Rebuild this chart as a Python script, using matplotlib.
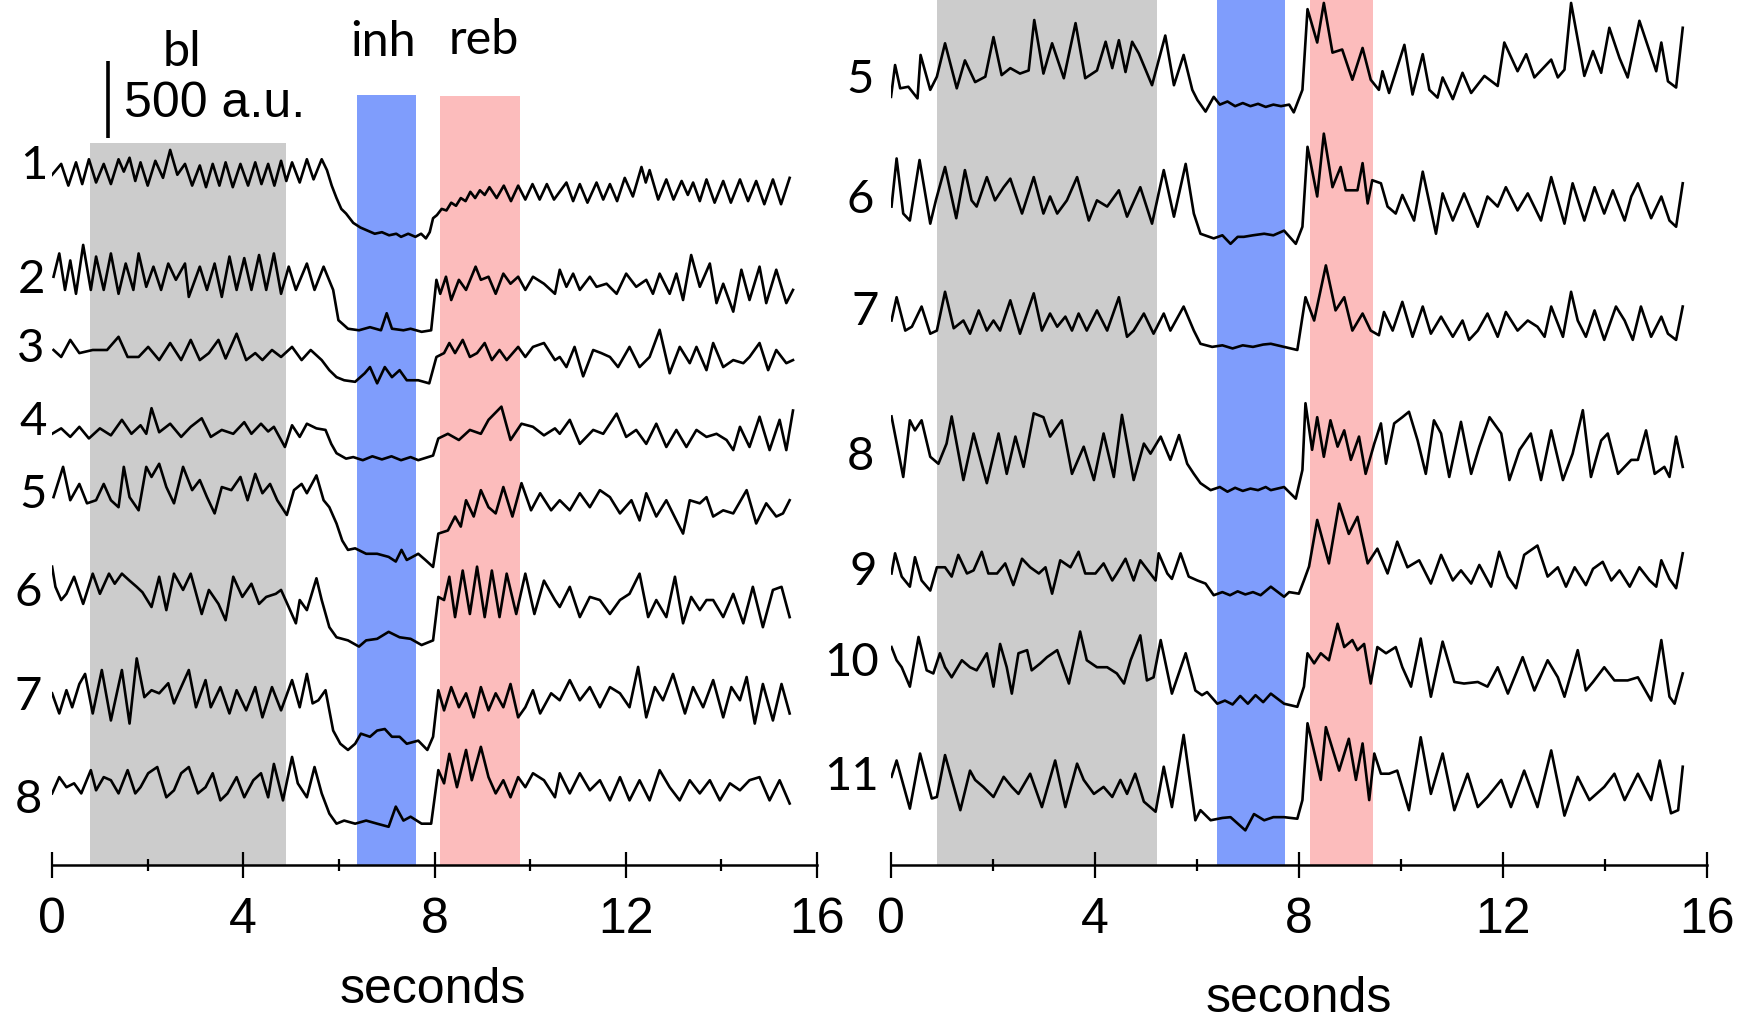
import matplotlib.pyplot as plt
import numpy as np

# traces: (seconds, a.u. above the inhibited level)
left_1 = [(0.0, 400), (0.19, 470), (0.34, 330), (0.5, 480), (0.63, 340), (0.77, 500), (0.92, 350), (1.08, 470),
          (1.23, 340), (1.39, 500), (1.5, 420), (1.62, 510), (1.74, 360), (1.85, 480), (2.0, 330), (2.16, 490),
          (2.32, 380), (2.47, 560), (2.62, 400), (2.78, 470), (2.93, 330), (3.09, 460), (3.22, 320), (3.36, 470),
          (3.5, 330), (3.63, 480), (3.78, 320), (3.94, 470), (4.1, 330), (4.25, 480), (4.38, 340), (4.52, 470),
          (4.65, 330), (4.79, 490), (4.9, 360), (5.02, 480), (5.18, 350), (5.33, 500), (5.47, 370), (5.64, 500),
          (5.75, 430), (5.85, 330), (5.95, 250), (6.05, 180), (6.15, 150), (6.3, 90), (6.45, 60), (6.6, 40),
          (6.75, 20), (6.9, 30), (7.05, 10), (7.2, 20), (7.3, 0), (7.45, 20), (7.6, 0), (7.72, 20), (7.82, -10),
          (7.9, 30), (7.97, 120), (8.05, 140), (8.15, 180), (8.25, 170), (8.35, 220), (8.45, 200), (8.55, 250),
          (8.65, 230), (8.75, 290), (8.85, 250), (8.95, 300), (9.05, 270), (9.15, 320), (9.3, 250), (9.45, 330),
          (9.6, 230), (9.75, 330), (9.9, 240), (10.05, 340), (10.2, 240), (10.35, 340), (10.5, 240), (10.76, 350),
          (10.9, 230), (11.04, 340), (11.2, 220), (11.39, 350), (11.53, 240), (11.67, 340), (11.82, 230),
          (11.98, 380), (12.15, 260), (12.33, 450), (12.42, 350), (12.5, 430), (12.68, 240), (12.85, 370),
          (13.0, 240), (13.17, 360), (13.3, 270), (13.41, 350), (13.55, 230), (13.69, 370), (13.86, 220),
          (14.04, 360), (14.2, 220), (14.39, 370), (14.56, 230), (14.73, 360), (14.9, 210), (15.08, 370),
          (15.25, 210), (15.43, 380)]
left_2 = [(0.03, 355), (0.15, 505), (0.27, 270), (0.38, 460), (0.5, 245), (0.65, 560), (0.81, 270), (0.92, 485),
          (1.08, 270), (1.23, 505), (1.39, 245), (1.54, 440), (1.7, 270), (1.81, 505), (1.97, 290), (2.12, 420),
          (2.28, 270), (2.43, 440), (2.59, 335), (2.78, 440), (2.86, 225), (3.09, 420), (3.24, 270), (3.4, 440),
          (3.55, 225), (3.71, 485), (3.86, 270), (4.02, 475), (4.17, 270), (4.33, 495), (4.48, 270), (4.64, 505),
          (4.79, 245), (4.95, 420), (5.1, 270), (5.33, 440), (5.49, 270), (5.68, 420), (5.88, 270), (5.99, 75),
          (6.19, 20), (6.42, 10), (6.65, 30), (6.88, 10), (7.0, 120), (7.11, 20), (7.35, 10), (7.5, 20), (7.73, 0),
          (7.93, 10), (8.04, 335), (8.12, 245), (8.24, 355), (8.35, 205), (8.51, 335), (8.66, 270), (8.86, 420),
          (8.97, 335), (9.13, 355), (9.28, 245), (9.44, 375), (9.59, 310), (9.75, 355), (9.9, 270), (10.06, 355),
          (10.29, 310), (10.52, 245), (10.62, 400), (10.76, 290), (10.9, 375), (11.04, 270), (11.25, 355),
          (11.39, 290), (11.6, 310), (11.81, 245), (12.01, 375), (12.22, 290), (12.43, 335), (12.57, 245),
          (12.71, 375), (12.92, 245), (13.06, 375), (13.2, 205), (13.37, 495), (13.55, 290), (13.76, 440),
          (13.9, 185), (14.04, 310), (14.25, 130), (14.42, 400), (14.59, 205), (14.8, 420), (14.94, 185),
          (15.15, 400), (15.36, 185), (15.5, 270)]
left_3 = [(0.03, 215), (0.19, 170), (0.38, 280), (0.57, 195), (0.85, 215), (1.15, 215), (1.39, 300), (1.58, 170),
          (1.81, 170), (2.01, 235), (2.24, 150), (2.47, 260), (2.7, 150), (2.9, 280), (3.09, 150), (3.28, 195),
          (3.48, 280), (3.63, 160), (3.86, 320), (4.06, 150), (4.25, 195), (4.4, 150), (4.6, 215), (4.79, 170),
          (5.02, 235), (5.22, 150), (5.41, 215), (5.64, 150), (5.8, 85), (5.95, 40), (6.11, 20), (6.34, 10),
          (6.54, 65), (6.65, 105), (6.8, 0), (6.96, 105), (7.11, 40), (7.27, 85), (7.42, 20), (7.66, 20),
          (7.89, 0), (8.04, 170), (8.2, 195), (8.31, 260), (8.43, 195), (8.59, 280), (8.74, 170), (8.89, 195),
          (9.05, 260), (9.2, 150), (9.36, 215), (9.51, 150), (9.75, 235), (9.9, 170), (10.06, 235), (10.29, 260),
          (10.52, 150), (10.62, 170), (10.76, 105), (10.93, 235), (11.11, 45), (11.32, 215), (11.49, 195),
          (11.67, 170), (11.84, 105), (12.08, 235), (12.29, 105), (12.5, 170), (12.71, 345), (12.92, 65),
          (13.13, 235), (13.34, 130), (13.48, 235), (13.69, 85), (13.83, 260), (14.04, 105), (14.25, 150),
          (14.46, 130), (14.59, 170), (14.8, 260), (14.98, 85), (15.15, 215), (15.36, 130), (15.5, 150)]
left_4 = [(0.0, 170), (0.19, 205), (0.38, 150), (0.57, 215), (0.77, 140), (1.0, 205), (1.23, 160), (1.46, 260),
          (1.66, 170), (1.85, 225), (1.97, 170), (2.08, 335), (2.24, 180), (2.47, 235), (2.7, 150), (2.9, 215),
          (3.13, 270), (3.32, 150), (3.55, 195), (3.79, 170), (4.02, 245), (4.17, 170), (4.37, 235), (4.52, 185),
          (4.64, 215), (4.87, 85), (5.02, 225), (5.18, 150), (5.33, 235), (5.53, 205), (5.72, 195), (5.84, 105),
          (5.95, 45), (6.15, 10), (6.3, 20), (6.5, 0), (6.7, 25), (6.9, 5), (7.1, 25), (7.3, 0), (7.5, 20),
          (7.66, 0), (7.97, 30), (8.08, 140), (8.28, 170), (8.51, 130), (8.74, 195), (8.97, 170), (9.13, 260),
          (9.4, 345), (9.59, 130), (9.82, 235), (10.06, 215), (10.29, 160), (10.52, 205), (10.62, 170),
          (10.83, 260), (11.04, 105), (11.32, 195), (11.53, 170), (11.81, 300), (12.01, 150), (12.22, 195),
          (12.43, 105), (12.64, 235), (12.85, 85), (13.06, 195), (13.27, 85), (13.48, 195), (13.69, 150),
          (13.9, 170), (14.11, 130), (14.25, 65), (14.39, 215), (14.59, 85), (14.8, 280), (15.01, 65),
          (15.22, 260), (15.36, 65), (15.5, 320)]
left_5 = [(0.03, 385), (0.23, 580), (0.38, 365), (0.57, 470), (0.73, 345), (0.92, 365), (1.08, 470), (1.23, 365),
          (1.39, 320), (1.5, 580), (1.62, 385), (1.81, 300), (1.97, 580), (2.08, 515), (2.24, 600), (2.39, 450),
          (2.55, 345), (2.74, 580), (2.93, 430), (3.09, 495), (3.24, 385), (3.4, 280), (3.55, 450), (3.75, 430),
          (3.94, 515), (4.09, 365), (4.25, 535), (4.4, 410), (4.56, 470), (4.71, 365), (4.91, 270), (5.06, 430),
          (5.22, 470), (5.33, 410), (5.53, 525), (5.68, 365), (5.8, 320), (5.95, 215), (6.07, 105), (6.19, 45),
          (6.34, 55), (6.57, 20), (6.8, 20), (7.04, 0), (7.19, -30), (7.31, 45), (7.42, -20), (7.66, 20),
          (7.81, -20), (7.97, -65), (8.08, 150), (8.28, 170), (8.43, 260), (8.55, 195), (8.66, 365), (8.82, 260),
          (8.97, 430), (9.13, 320), (9.28, 280), (9.44, 450), (9.63, 260), (9.82, 475), (10.02, 300), (10.21, 410),
          (10.44, 300), (10.62, 365), (10.83, 300), (11.04, 410), (11.25, 320), (11.46, 430), (11.67, 385),
          (11.88, 280), (12.12, 365), (12.29, 235), (12.43, 410), (12.64, 260), (12.85, 365), (13.06, 235),
          (13.2, 150), (13.34, 365), (13.55, 345), (13.69, 385), (13.83, 260), (14.04, 300), (14.25, 280),
          (14.53, 430), (14.73, 215), (14.94, 345), (15.15, 260), (15.29, 280), (15.43, 365)]
left_6 = [(0.0, 485), (0.07, 355), (0.19, 270), (0.3, 310), (0.46, 420), (0.65, 245), (0.85, 440), (1.0, 310),
          (1.19, 440), (1.31, 375), (1.46, 440), (1.62, 395), (1.77, 355), (1.89, 320), (2.08, 225), (2.24, 420),
          (2.39, 205), (2.55, 440), (2.74, 335), (2.9, 440), (3.13, 180), (3.28, 335), (3.48, 245), (3.63, 140),
          (3.79, 420), (3.98, 290), (4.17, 375), (4.33, 245), (4.48, 290), (4.68, 310), (4.79, 335), (4.95, 225),
          (5.1, 120), (5.18, 270), (5.33, 205), (5.53, 410), (5.64, 270), (5.8, 95), (5.95, 30), (6.19, 10),
          (6.42, -30), (6.57, 10), (6.8, 20), (7.04, 65), (7.27, 30), (7.5, 20), (7.73, -20), (7.97, 10),
          (8.08, 290), (8.2, 270), (8.31, 420), (8.43, 160), (8.59, 460), (8.74, 180), (8.89, 485), (9.05, 160),
          (9.2, 460), (9.36, 160), (9.51, 440), (9.71, 180), (9.9, 440), (10.09, 180), (10.29, 395), (10.52, 270),
          (10.62, 225), (10.83, 355), (11.04, 160), (11.25, 290), (11.46, 270), (11.67, 180), (11.88, 270),
          (12.08, 310), (12.29, 440), (12.47, 160), (12.64, 270), (12.85, 160), (13.03, 420), (13.2, 120),
          (13.37, 290), (13.55, 205), (13.69, 270), (13.83, 270), (14.04, 160), (14.25, 310), (14.46, 120),
          (14.66, 355), (14.87, 95), (15.08, 335), (15.26, 355), (15.43, 160)]
left_7 = [(0.0, 335), (0.15, 205), (0.3, 355), (0.42, 245), (0.57, 395), (0.69, 460), (0.85, 205), (1.04, 485),
          (1.23, 160), (1.46, 485), (1.62, 140), (1.77, 560), (1.93, 310), (2.08, 355), (2.24, 335), (2.43, 400),
          (2.55, 270), (2.7, 375), (2.86, 485), (3.01, 245), (3.21, 420), (3.32, 245), (3.52, 375), (3.71, 205),
          (3.86, 355), (4.06, 225), (4.25, 375), (4.4, 180), (4.6, 375), (4.79, 225), (5.02, 420), (5.18, 245),
          (5.33, 460), (5.45, 270), (5.57, 290), (5.72, 355), (5.88, 95), (6.03, 10), (6.19, -30), (6.34, 10),
          (6.46, 75), (6.65, 55), (6.8, 95), (6.96, 105), (7.11, 55), (7.27, 55), (7.42, 10), (7.66, 30),
          (7.85, -30), (7.97, 55), (8.08, 355), (8.2, 225), (8.35, 375), (8.51, 245), (8.66, 335), (8.82, 180),
          (8.97, 375), (9.13, 225), (9.28, 335), (9.44, 245), (9.59, 395), (9.75, 180), (9.9, 245), (10.06, 355),
          (10.21, 205), (10.44, 335), (10.62, 290), (10.83, 420), (11.04, 290), (11.25, 375), (11.46, 245),
          (11.67, 375), (11.88, 335), (12.08, 245), (12.26, 505), (12.43, 180), (12.61, 375), (12.78, 290),
          (12.99, 460), (13.24, 205), (13.41, 375), (13.62, 245), (13.83, 420), (14.04, 180), (14.21, 375),
          (14.39, 290), (14.53, 440), (14.7, 140), (14.87, 395), (15.08, 160), (15.26, 395), (15.43, 205)]
left_8 = [(0.0, 205), (0.15, 310), (0.3, 245), (0.46, 270), (0.61, 205), (0.81, 355), (0.92, 225), (1.08, 310),
          (1.23, 290), (1.39, 205), (1.58, 355), (1.74, 205), (1.85, 245), (2.01, 335), (2.2, 375), (2.39, 180),
          (2.55, 225), (2.7, 335), (2.86, 375), (3.05, 205), (3.21, 245), (3.36, 335), (3.52, 160), (3.67, 205),
          (3.86, 310), (4.02, 180), (4.21, 290), (4.37, 335), (4.52, 180), (4.64, 395), (4.83, 160), (5.02, 440),
          (5.14, 270), (5.33, 180), (5.49, 375), (5.64, 205), (5.8, 75), (5.95, 10), (6.11, 30), (6.34, 10),
          (6.57, 30), (6.8, 10), (7.04, -10), (7.19, 120), (7.35, 30), (7.5, 55), (7.73, 10), (7.93, 10),
          (8.08, 355), (8.2, 270), (8.31, 460), (8.47, 245), (8.66, 485), (8.78, 290), (8.97, 505), (9.13, 310),
          (9.28, 205), (9.44, 290), (9.59, 180), (9.75, 310), (9.9, 245), (10.06, 335), (10.29, 290), (10.52, 180),
          (10.62, 335), (10.83, 205), (11.04, 335), (11.25, 225), (11.46, 290), (11.67, 160), (11.88, 310),
          (12.08, 160), (12.29, 290), (12.5, 160), (12.71, 355), (12.92, 245), (13.13, 160), (13.34, 290),
          (13.55, 205), (13.76, 290), (13.97, 160), (14.18, 270), (14.39, 225), (14.59, 290), (14.8, 310),
          (15.01, 160), (15.22, 290), (15.43, 140)]

right_5 = [(0.0, 60), (0.08, 265), (0.18, 115), (0.34, 125), (0.52, 50), (0.58, 330), (0.77, 105), (0.9, 190),
           (1.06, 405), (1.29, 115), (1.45, 295), (1.65, 155), (1.85, 190), (2.01, 445), (2.17, 200), (2.34, 245),
           (2.53, 210), (2.7, 230), (2.81, 555), (2.99, 210), (3.16, 405), (3.39, 180), (3.62, 535), (3.81, 180),
           (4.04, 230), (4.21, 415), (4.34, 245), (4.47, 425), (4.6, 220), (4.73, 415), (4.86, 340), (5.12, 135),
           (5.38, 455), (5.55, 135), (5.74, 330), (5.91, 105), (6.01, 40), (6.17, -35), (6.33, 60), (6.45, 10),
           (6.6, 30), (6.75, 0), (6.9, 20), (7.05, 0), (7.2, 15), (7.35, -5), (7.5, 10), (7.65, 0), (7.81, 10),
           (7.9, -40), (8.07, 105), (8.17, 625), (8.36, 410), (8.49, 665), (8.66, 345), (8.85, 365), (9.05, 170),
           (9.25, 375), (9.41, 170), (9.57, 105), (9.64, 225), (9.77, 85), (10.07, 395), (10.23, 75), (10.43, 335),
           (10.56, 105), (10.72, 55), (10.82, 185), (11.02, 45), (11.21, 215), (11.38, 85), (11.64, 195),
           (11.9, 130), (12.03, 410), (12.29, 225), (12.46, 335), (12.62, 185), (12.95, 300), (13.08, 185),
           (13.21, 235), (13.34, 665), (13.6, 195), (13.77, 355), (13.93, 215), (14.09, 505), (14.29, 310),
           (14.45, 185), (14.68, 550), (15.01, 225), (15.11, 410), (15.24, 160), (15.4, 120), (15.53, 505)]
right_6 = [(0.01, 195), (0.11, 505), (0.24, 150), (0.37, 105), (0.56, 495), (0.77, 85), (0.88, 235), (1.06, 450),
           (1.28, 120), (1.45, 430), (1.58, 235), (1.68, 195), (1.88, 385), (2.04, 235), (2.21, 320), (2.34, 375),
           (2.57, 150), (2.8, 385), (2.99, 150), (3.12, 260), (3.26, 150), (3.45, 235), (3.65, 385), (3.88, 105),
           (4.04, 235), (4.24, 195), (4.47, 300), (4.63, 130), (4.89, 320), (5.12, 85), (5.35, 430), (5.55, 130),
           (5.78, 470), (5.94, 150), (6.07, 20), (6.33, -10), (6.5, 10), (6.66, -45), (6.8, 0), (6.92, 0),
           (7.1, 10), (7.32, 20), (7.5, 10), (7.71, 40), (7.94, -45), (8.07, 65), (8.17, 580), (8.36, 260),
           (8.49, 665), (8.66, 320), (8.82, 450), (8.92, 300), (9.15, 300), (9.25, 475), (9.35, 215), (9.44, 365),
           (9.61, 345), (9.74, 195), (9.9, 150), (10.03, 270), (10.26, 105), (10.43, 420), (10.69, 20),
           (10.82, 280), (11.02, 105), (11.24, 280), (11.51, 65), (11.7, 260), (11.9, 195), (12.06, 320),
           (12.29, 170), (12.49, 280), (12.75, 105), (12.95, 385), (13.21, 85), (13.37, 345), (13.6, 105),
           (13.8, 320), (13.99, 150), (14.16, 300), (14.39, 105), (14.52, 260), (14.65, 345), (14.91, 120),
           (15.11, 260), (15.27, 105), (15.4, 65), (15.53, 345)]
right_7 = [(0.01, 170), (0.11, 320), (0.28, 105), (0.41, 130), (0.6, 260), (0.77, 85), (0.9, 105), (1.06, 355),
           (1.23, 120), (1.42, 170), (1.55, 85), (1.72, 235), (1.88, 105), (2.01, 170), (2.14, 105), (2.34, 300),
           (2.53, 85), (2.8, 345), (2.96, 105), (3.12, 215), (3.26, 130), (3.42, 195), (3.55, 105), (3.68, 215),
           (3.84, 105), (4.04, 235), (4.24, 105), (4.47, 320), (4.63, 65), (4.76, 105), (4.96, 215), (5.15, 85),
           (5.35, 215), (5.48, 105), (5.74, 260), (5.94, 105), (6.07, 20), (6.3, 0), (6.5, 10), (6.7, -10),
           (6.9, 10), (7.1, 0), (7.3, 15), (7.45, 20), (7.71, 0), (7.97, -20), (8.13, 320), (8.3, 170),
           (8.53, 525), (8.72, 235), (8.89, 320), (9.05, 105), (9.25, 215), (9.41, 105), (9.57, 75), (9.67, 225),
           (9.84, 105), (10.03, 290), (10.23, 65), (10.43, 260), (10.59, 85), (10.79, 195), (11.02, 65),
           (11.21, 170), (11.34, 45), (11.51, 105), (11.7, 215), (11.9, 65), (12.06, 225), (12.29, 105),
           (12.49, 170), (12.68, 130), (12.82, 65), (12.95, 260), (13.18, 65), (13.34, 355), (13.47, 170),
           (13.63, 65), (13.8, 235), (13.99, 45), (14.22, 260), (14.39, 170), (14.55, 45), (14.71, 260),
           (14.91, 65), (15.11, 195), (15.24, 85), (15.4, 45), (15.53, 260)]
right_8 = [(0.01, 475), (0.24, 85), (0.37, 450), (0.47, 385), (0.6, 450), (0.77, 215), (0.93, 170), (1.09, 300),
           (1.19, 475), (1.42, 65), (1.62, 365), (1.88, 45), (2.11, 365), (2.27, 105), (2.44, 345), (2.6, 150),
           (2.8, 495), (2.99, 470), (3.12, 345), (3.35, 450), (3.55, 105), (3.78, 280), (3.98, 65), (4.17, 365),
           (4.37, 85), (4.53, 485), (4.76, 65), (4.96, 300), (5.09, 235), (5.29, 345), (5.48, 195), (5.65, 355),
           (5.81, 170), (5.94, 105), (6.07, 45), (6.27, 0), (6.45, 20), (6.6, -10), (6.75, 15), (6.9, -5),
           (7.05, 10), (7.2, 0), (7.35, 20), (7.45, 0), (7.71, 20), (7.94, -55), (8.07, 130), (8.13, 560),
           (8.26, 260), (8.36, 470), (8.49, 215), (8.62, 450), (8.76, 280), (8.89, 385), (9.02, 195), (9.18, 345),
           (9.31, 105), (9.48, 300), (9.61, 430), (9.71, 170), (9.87, 430), (10.03, 470), (10.16, 505),
           (10.33, 320), (10.49, 105), (10.65, 450), (10.79, 365), (10.95, 85), (11.18, 440), (11.38, 105),
           (11.54, 280), (11.74, 470), (11.97, 365), (12.13, 65), (12.33, 260), (12.55, 365), (12.75, 65),
           (12.95, 385), (13.18, 65), (13.37, 235), (13.57, 515), (13.73, 85), (13.93, 320), (14.06, 365),
           (14.26, 105), (14.52, 195), (14.65, 195), (14.81, 385), (14.98, 105), (15.17, 150), (15.27, 85),
           (15.4, 345), (15.53, 150)]
right_9 = [(0.01, 140), (0.08, 270), (0.21, 120), (0.37, 55), (0.47, 245), (0.6, 95), (0.77, 30), (0.9, 180),
           (1.06, 180), (1.19, 120), (1.32, 260), (1.49, 140), (1.62, 160), (1.78, 280), (1.91, 140), (2.08, 140),
           (2.24, 205), (2.4, 65), (2.57, 235), (2.73, 180), (2.9, 140), (3.03, 180), (3.16, 10), (3.32, 225),
           (3.52, 180), (3.68, 280), (3.81, 140), (4.01, 140), (4.17, 205), (4.34, 95), (4.43, 140), (4.6, 235),
           (4.76, 95), (4.89, 225), (5.19, 95), (5.25, 270), (5.42, 140), (5.51, 105), (5.68, 270), (5.84, 120),
           (6.01, 95), (6.17, 75), (6.33, 0), (6.5, 20), (6.65, 0), (6.8, 25), (6.95, 5), (7.1, 20), (7.25, 0),
           (7.45, 55), (7.71, -10), (7.81, 20), (8.0, 10), (8.1, 95), (8.2, 185), (8.36, 485), (8.59, 205),
           (8.79, 590), (8.98, 395), (9.15, 505), (9.35, 205), (9.54, 300), (9.74, 140), (9.93, 345),
           (10.13, 180), (10.36, 225), (10.59, 75), (10.79, 260), (11.02, 95), (11.18, 160), (11.38, 75),
           (11.54, 195), (11.77, 55), (11.93, 280), (12.1, 120), (12.26, 45), (12.42, 260), (12.68, 320),
           (12.88, 120), (13.08, 180), (13.24, 55), (13.41, 180), (13.63, 65), (13.77, 170), (13.96, 215),
           (14.13, 95), (14.29, 160), (14.49, 55), (14.68, 180), (14.88, 95), (15.01, 55), (15.11, 225),
           (15.27, 105), (15.4, 45), (15.53, 270)]
right_10 = [(0.01, 375), (0.11, 290), (0.21, 245), (0.37, 120), (0.54, 440), (0.7, 225), (0.83, 205), (0.96, 335),
            (1.06, 245), (1.19, 180), (1.39, 290), (1.55, 245), (1.68, 225), (1.88, 335), (2.01, 120), (2.14, 395),
            (2.27, 245), (2.37, 75), (2.5, 335), (2.67, 355), (2.76, 225), (2.93, 270), (3.06, 310), (3.26, 355),
            (3.49, 140), (3.71, 475), (3.84, 290), (4.04, 245), (4.24, 245), (4.43, 205), (4.57, 140), (4.7, 290),
            (4.89, 450), (5.02, 160), (5.15, 180), (5.29, 420), (5.51, 75), (5.78, 335), (5.97, 95), (6.1, 65),
            (6.2, 85), (6.4, 10), (6.55, 30), (6.7, 5), (6.85, 60), (7.0, 10), (7.15, 65), (7.3, 20), (7.45, 75),
            (7.71, 10), (7.97, -10), (8.1, 120), (8.17, 335), (8.3, 270), (8.43, 335), (8.59, 290), (8.76, 525),
            (8.89, 375), (9.05, 420), (9.15, 355), (9.28, 395), (9.41, 140), (9.54, 375), (9.71, 335), (9.9, 375),
            (10.03, 245), (10.2, 120), (10.39, 430), (10.59, 55), (10.82, 410), (11.05, 150), (11.24, 140),
            (11.51, 150), (11.7, 120), (11.9, 245), (12.1, 75), (12.39, 310), (12.62, 95), (12.88, 290),
            (13.08, 180), (13.21, 55), (13.47, 355), (13.63, 95), (13.77, 150), (13.99, 245), (14.19, 160),
            (14.45, 160), (14.65, 180), (14.91, 30), (15.11, 420), (15.27, 55), (15.37, 10), (15.53, 205)]
right_11 = [(0.01, 280), (0.11, 385), (0.37, 75), (0.57, 430), (0.8, 140), (0.9, 150), (1.06, 420), (1.36, 65),
            (1.55, 320), (1.65, 260), (1.81, 215), (2.01, 150), (2.21, 280), (2.37, 215), (2.5, 170), (2.73, 300),
            (2.96, 85), (3.22, 385), (3.42, 85), (3.65, 365), (3.78, 260), (3.98, 170), (4.17, 215), (4.34, 150),
            (4.5, 260), (4.63, 170), (4.79, 300), (4.96, 120), (5.19, 55), (5.35, 345), (5.51, 85), (5.74, 550),
            (5.97, 0), (6.07, 65), (6.27, 0), (6.5, 15), (6.66, 20), (6.95, -65), (7.12, 40), (7.32, 0), (7.5, 20),
            (7.71, 20), (7.97, 10), (8.07, 130), (8.17, 625), (8.43, 260), (8.53, 600), (8.79, 320), (8.98, 525),
            (9.12, 260), (9.25, 495), (9.38, 130), (9.48, 430), (9.61, 300), (9.77, 300), (9.93, 320),
            (10.16, 65), (10.39, 535), (10.59, 170), (10.82, 430), (11.05, 65), (11.31, 300), (11.51, 85),
            (11.7, 150), (11.97, 260), (12.16, 85), (12.42, 320), (12.68, 85), (12.95, 450), (13.21, 30),
            (13.47, 280), (13.7, 130), (13.99, 215), (14.19, 300), (14.39, 130), (14.65, 300), (14.91, 130),
            (15.08, 385), (15.3, 45), (15.44, 65), (15.53, 345)]

left_traces = [left_1, left_2, left_3, left_4, left_5, left_6, left_7, left_8]
left_names = ['1', '2', '3', '4', '5', '6', '7', '8']
right_traces = [right_5, right_6, right_7, right_8, right_9, right_10, right_11]
right_names = ['5', '6', '7', '8', '9', '10', '11']

# epochs in seconds
left_epochs = {'bl': (0.80, 4.90), 'inh': (6.38, 7.61), 'reb': (8.12, 9.79)}
right_epochs = {'bl': (0.90, 5.22), 'inh': (6.39, 7.72), 'reb': (8.22, 9.46)}
major_ticks = [0, 4, 8, 12, 16]
minor_ticks = [2, 6, 10, 14]

# ---- layout (a.u. along the stacked y axis) ----
Y_TOP = 5570
left_offsets = [4044, 3432, 3100, 2605, 1982, 1434, 768, 253]
right_offsets = [4886, 4044, 3335, 2412, 1735, 1026, 285]
left_span_tops = {'bl': 4650, 'inh': 4960, 'reb': 4950}
epoch_colors = {'bl': '#cccccc', 'inh': '#7f9dfc', 'reb': '#fcbcbc'}

W, H = 1738, 1027
fig = plt.figure(figsize=(W / 100, H / 100), dpi=100)
axis_y = 864.5
ax_l = fig.add_axes([52.1 / W, 1 - axis_y / H, 764.8 / W, axis_y / H])
ax_r = fig.add_axes([891.0 / W, 1 - axis_y / H, 815.7 / W, axis_y / H])

tick_font = 'Liberation Sans'
label_font = 'Lato'

for ax, traces, offsets, epochs in [(ax_l, left_traces, left_offsets, left_epochs),
                                     (ax_r, right_traces, right_offsets, right_epochs)]:
    ax.set_xlim(0, 16)
    ax.set_ylim(0, Y_TOP)
    for key, (x0, x1) in epochs.items():
        top = left_span_tops[key] if ax is ax_l else Y_TOP
        ax.axvspan(x0, x1, ymin=0, ymax=top / Y_TOP, color=epoch_colors[key], lw=0, zorder=0)
    for pts, off in zip(traces, offsets):
        t, v = zip(*pts)
        ax.plot(t, np.array(v) + off, color='black', lw=1.9, zorder=3, solid_joinstyle='round')
    for s in ['left', 'top', 'right']:
        ax.spines[s].set_visible(False)
    ax.spines['bottom'].set_linewidth(1.8)
    ax.set_yticks([])
    ax.set_xticks(major_ticks)
    ax.set_xticks(minor_ticks, minor=True)
    ax.tick_params(axis='x', which='major', direction='inout', length=19, width=1.6, pad=14, labelsize=36)
    ax.tick_params(axis='x', which='minor', direction='inout', length=9, width=1.6)
    for lab in ax.get_xticklabels():
        lab.set_fontfamily(tick_font)
    ax.patch.set_alpha(0)

fig.text(390 * 1.1084 / W, 1 - 990 / H, 'seconds', fontsize=36, family=tick_font, ha='center', va='center')
fig.text(1172 * 1.1084 / W, 1 - 999 / H, 'seconds', fontsize=36, family=tick_font, ha='center', va='center')

# trace numbers
left_label_pos = [(34, 166), (31, 280), (31, 349), (33, 422), (33, 495), (28, 593), (28, 697), (28, 800)]
right_label_pos = [(860, 80), (860, 200), (865, 312), (860, 457), (863, 572), (852, 663), (852, 777)]
for names, pos in [(left_names, left_label_pos), (right_names, right_label_pos)]:
    for name, (x, y) in zip(names, pos):
        fig.text(x / W, 1 - y / H, name, fontsize=34, family=label_font, ha='center', va='center')

# epoch names and scale bar
fig.text(182 / W, 1 - 52 / H, 'bl', fontsize=35, family=label_font, ha='center', va='center')
fig.text(383 / W, 1 - 42 / H, 'inh', fontsize=35, family=label_font, ha='center', va='center')
fig.text(484 / W, 1 - 40 / H, 'reb', fontsize=35, family=label_font, ha='center', va='center')
bar_t, bar_top, bar_len = 1.17, 5178, 500
ax_l.plot([bar_t, bar_t], [bar_top - bar_len, bar_top], color='black', lw=2.6, solid_capstyle='butt', clip_on=False)
fig.text(124 / W, 1 - 104 / H, '500 a.u.', fontsize=36, family=tick_font, ha='left', va='center')

fig.savefig('out.png', dpi=100)
